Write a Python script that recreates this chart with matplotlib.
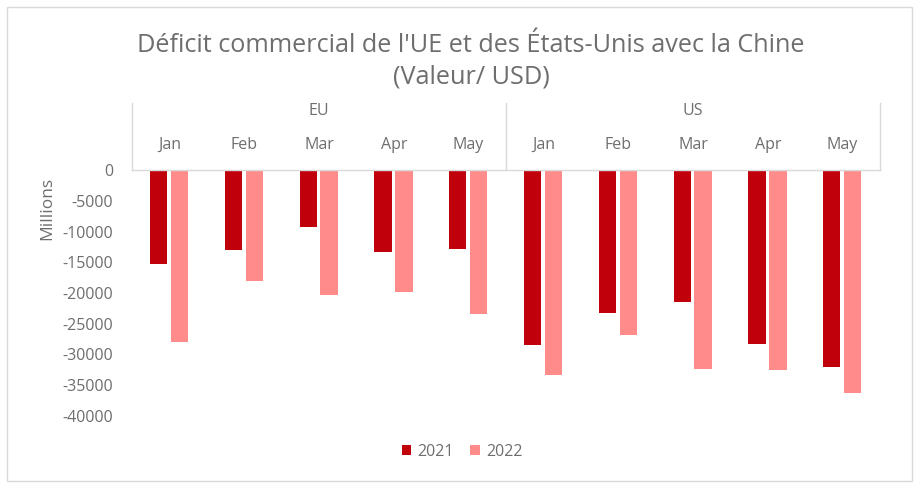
import matplotlib

matplotlib.use("Agg")
import matplotlib.pyplot as plt
import numpy as np
from matplotlib.patches import Rectangle
from matplotlib.transforms import blended_transform_factory

plt.rcParams["font.family"] = ["Open Sans", "DejaVu Sans"]

regions = ["EU", "US"]
months = ["Jan", "Feb", "Mar", "Apr", "May"]
deficit_2021 = [-15300, -13000, -9300, -13300, -12800,
                -28500, -23300, -21500, -28300, -32000]
deficit_2022 = [-28000, -18000, -20300, -19800, -23400,
                -33300, -26800, -32400, -32500, -36300]
series_labels = ["2021", "2022"]
yticks = list(range(-40000, 1, 5000))

c2021 = "#C0000B"
c2022 = "#FF8B8B"
txt = "#6E6E6E"
line_c = "#D9D9D9"
fs = 11.5

W, H = 922, 492
fig = plt.figure(figsize=(W / 100, H / 100), dpi=100)
# plot area in pixels: x 132..880, y 170..416
ax = fig.add_axes([132 / W, 1 - 416 / H, (880 - 132) / W, (416 - 170) / H])

n = len(regions) * len(months)
x = np.arange(n)
width = 0.23
ax.bar(x - 0.145, deficit_2021, width, color=c2021, label=series_labels[0], zorder=2)
ax.bar(x + 0.135, deficit_2022, width, color=c2022, label=series_labels[1], zorder=2)

ax.set_xlim(-0.5, n - 0.5)
ax.set_ylim(-40000, 0)
ax.set_yticks(yticks)
ax.set_yticklabels([str(v) for v in yticks])
ax.tick_params(axis="y", length=0, labelsize=fs, labelcolor=txt, pad=13.5)
ax.set_xticks([])
for s in ["left", "right", "bottom"]:
    ax.spines[s].set_visible(False)
ax.spines["top"].set_color(line_c)
ax.spines["top"].set_linewidth(1)
fig.text(47 / W, 1 - 208 / H, "Millions", rotation=90, ha="center", va="center",
         fontsize=12.5, color=txt)

# multi-level category header above the zero line
tr = blended_transform_factory(ax.transData, ax.transAxes)
top = 1 + 67 / 246
for i, reg in enumerate(regions):
    x0 = i * len(months) - 0.5
    ax.plot([x0, x0], [1, top], transform=tr, color=line_c, lw=1, clip_on=False)
    ax.text(x0 + len(months) / 2, 1 + 59 / 246, reg, transform=tr, ha="center",
            va="center", fontsize=fs, color=txt)
    for j, m in enumerate(months):
        ax.text(i * len(months) + j, 1 + 25 / 246, m, transform=tr, ha="center",
                va="center", fontsize=fs, color=txt)
ax.plot([n - 0.5, n - 0.5], [1, top], transform=tr, color=line_c, lw=1, clip_on=False)

fig.text(471 / W, 1 - 45 / H, "Déficit commercial de l'UE et des États-Unis avec la Chine",
         ha="center", va="center", fontsize=18.2, color=txt)
fig.text(471 / W, 1 - 77 / H, "(Valeur/ USD)", ha="center", va="center",
         fontsize=18.2, color=txt)

leg = fig.legend(loc="center", bbox_to_anchor=(462 / W, 1 - 452 / H), ncol=2,
                 frameon=False, fontsize=fs, handlelength=0.6, handleheight=0.6,
                 handletextpad=0.4, columnspacing=1.0)
for t in leg.get_texts():
    t.set_color(txt)

fig.patches.append(Rectangle((7 / W, 1 - 481 / H), 905 / W, 474 / H,
                             transform=fig.transFigure, fill=False,
                             edgecolor=line_c, lw=1))

fig.savefig("out.png", dpi=100)
